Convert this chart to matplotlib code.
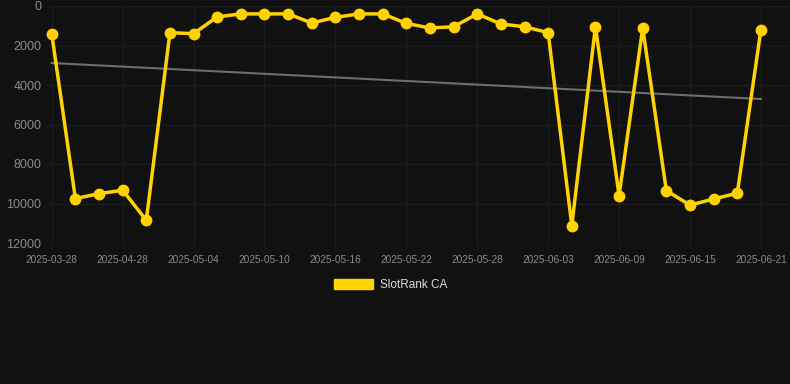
import matplotlib
matplotlib.use('Agg')
from matplotlib import pyplot as plt
from matplotlib.patches import Patch

dates = ['2025-03-28', '2025-04-08', '2025-04-18', '2025-04-28', '2025-04-30', '2025-05-02',
         '2025-05-04', '2025-05-06', '2025-05-08', '2025-05-10', '2025-05-12', '2025-05-14',
         '2025-05-16', '2025-05-18', '2025-05-20', '2025-05-22', '2025-05-24', '2025-05-26',
         '2025-05-28', '2025-05-30', '2025-06-01', '2025-06-03', '2025-06-05', '2025-06-07',
         '2025-06-09', '2025-06-11', '2025-06-13', '2025-06-15', '2025-06-17', '2025-06-19',
         '2025-06-21']
rank = [1400, 9750, 9500, 9330, 10850, 1350, 1400, 550, 400, 400, 400, 860, 575, 400, 400,
        880, 1115, 1050, 400, 910, 1050, 1350, 11120, 1050, 9600, 1115, 9350, 10080, 9770,
        9480, 1200]
trend = [2886, 4709]  # start / end of trend line
yticks = [0, 2000, 4000, 6000, 8000, 10000, 12000]

bg = '#111111'
gold = '#FFD200'

fig = plt.figure(figsize=(7.9, 3.84), dpi=100)
fig.patch.set_facecolor(bg)
ax = fig.add_axes([47/790, 1 - 243/384, 1 - 47/790, 237/384])
ax.set_facecolor(bg)

x = list(range(len(dates)))
ax.plot([0, len(dates) - 1], trend, color='#6e6e6e', lw=1.5, zorder=2)
ax.plot(x, rank, color=gold, lw=2.5, marker='o', ms=7.5, solid_joinstyle='miter',
        zorder=3, clip_on=False)

ax.set_ylim(12000, 0)
ax.set_xlim(-0.2, len(dates) - 1 + 1.23)
ax.set_yticks(yticks)
ax.set_yticklabels([str(v) for v in yticks])
ax.set_xticks(x[::3])
ax.set_xticklabels(dates[::3])
ax.grid(True, color='#1d1d1d', lw=1)
ax.set_axisbelow(True)
for s in ax.spines.values():
    s.set_visible(False)
ax.tick_params(axis='y', length=0, pad=4, labelsize=9, labelcolor='#8a8a8a')
ax.tick_params(axis='x', length=4, color='#1d1d1d', pad=4.5, labelsize=7.3, labelcolor='#8a8a8a')
for t in ax.get_xticklabels() + ax.get_yticklabels():
    t.set_family('Liberation Sans')

leg = fig.legend(handles=[Patch(color=gold, label='SlotRank CA')], loc='center',
                 bbox_to_anchor=(0.494, 1 - 285/384), frameon=False,
                 handlelength=3.3, handleheight=0.85, handletextpad=0.6,
                 prop={'family': 'Liberation Sans', 'size': 8.5})
for t in leg.get_texts():
    t.set_color('#dddddd')

fig.savefig('out.png', dpi=100, facecolor=bg)
